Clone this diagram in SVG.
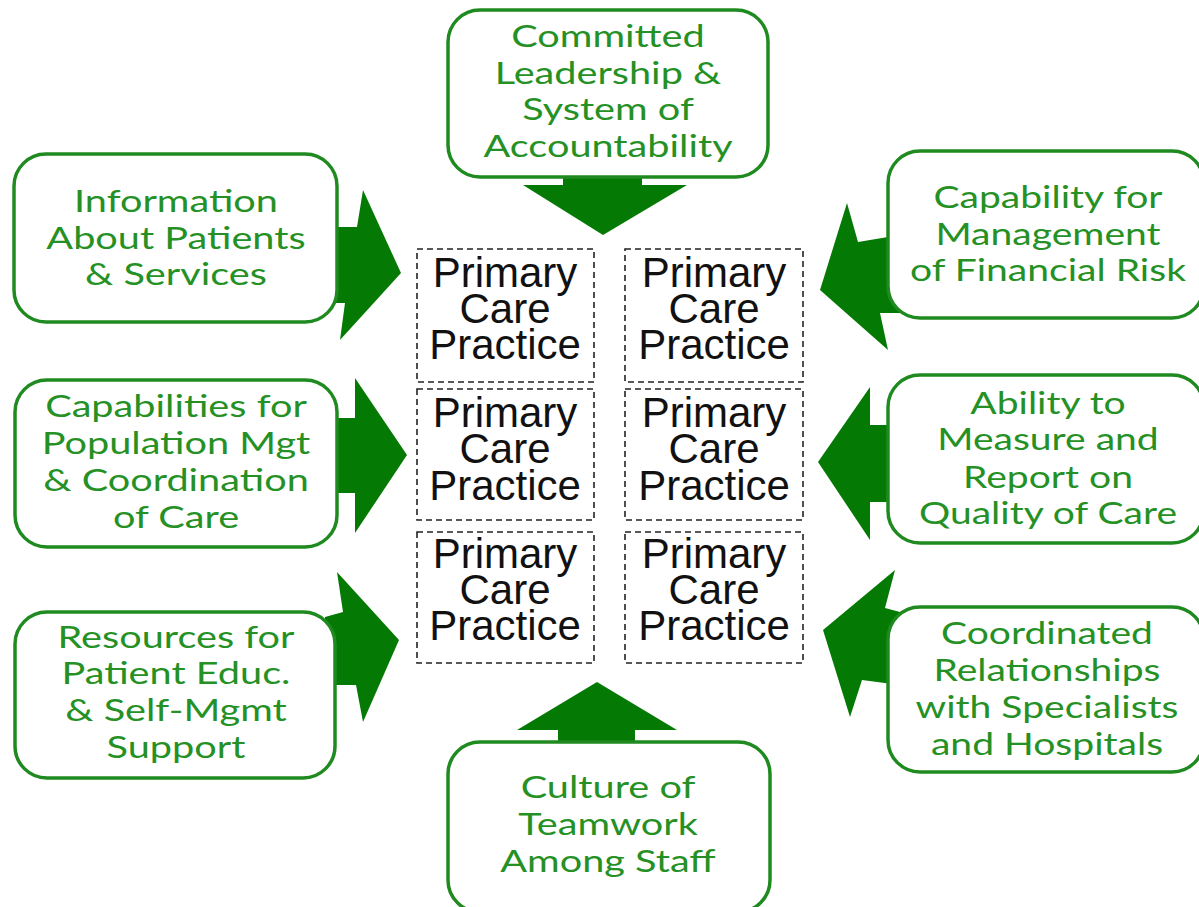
<svg xmlns="http://www.w3.org/2000/svg" width="1199" height="907" viewBox="0 0 1199 907">
<style>
.box{fill:#fff;stroke:#1f8a1f;stroke-width:3.5}
.arr{fill:#047a04;stroke:none}
.gt{font-family:Lato,"Open Sans",sans-serif;font-size:31.5px;fill:#259125;text-anchor:middle}
.pc{fill:none;stroke:#222;stroke-width:1.6;stroke-dasharray:6 4}
.bt{font-family:"Liberation Sans",Arial,sans-serif;font-size:42px;fill:#111;text-anchor:middle}
</style>
<rect width="1199" height="907" fill="#fff"/>
<g id="connectors">
<polygon class="arr" points="563,170 642,170 642,185 687,185 603,235 523,185 563,185"/>
<polygon class="arr" points="325,227 357,227 363,190 401,273 340,340 345,303 325,303"/>
<polygon class="arr" points="325,418 355,418 355,378 407,455 355,533 355,493 325,493"/>
<polygon class="arr" points="325,617 343,612 337,572 399,640 363,722 356,685 325,685"/>
<polygon class="arr" points="900,235 858,242 847,203 820,290 888,350 880,313 900,313"/>
<polygon class="arr" points="900,425 870,425 870,387 818,462 870,540 870,502 900,502"/>
<polygon class="arr" points="900,612 885,608 895,570 823,630 850,717 862,680 900,685"/>
<polygon class="arr" points="558,750 558,730 517,730 597,682 677,730 635,730 635,750"/>
</g>
<g id="n-committed"><rect class="box" x="448" y="10" width="320" height="167" rx="32"/>
<text class="gt" transform="translate(608 0) scale(1.26 1)"><tspan x="0" y="47">Committed</tspan><tspan x="0" y="84">Leadership &amp;</tspan><tspan x="0" y="120">System of</tspan><tspan x="0" y="157">Accountability</tspan></text></g>
<g id="n-info"><rect class="box" x="14" y="154" width="323" height="168" rx="32"/>
<text class="gt" transform="translate(176 0) scale(1.26 1)"><tspan x="0" y="212">Information</tspan><tspan x="0" y="249">About Patients</tspan><tspan x="0" y="285">&amp; Services</tspan></text></g>
<g id="n-capabilities"><rect class="box" x="15" y="380" width="322" height="167" rx="32"/>
<text class="gt" transform="translate(176 0) scale(1.26 1)"><tspan x="0" y="417">Capabilities for</tspan><tspan x="0" y="454">Population Mgt</tspan><tspan x="0" y="491">&amp; Coordination</tspan><tspan x="0" y="528">of Care</tspan></text></g>
<g id="n-resources"><rect class="box" x="15" y="612" width="320" height="166" rx="32"/>
<text class="gt" transform="translate(176 0) scale(1.26 1)"><tspan x="0" y="648">Resources  for</tspan><tspan x="0" y="684">Patient Educ.</tspan><tspan x="0" y="721">&amp; Self-Mgmt</tspan><tspan x="0" y="758">Support</tspan></text></g>
<g id="n-financial"><rect class="box" x="888" y="151" width="316" height="167" rx="32"/>
<text class="gt" transform="translate(1048 0) scale(1.24 1)"><tspan x="0" y="208">Capability for</tspan><tspan x="0" y="245">Management</tspan><tspan x="0" y="281">of Financial Risk</tspan></text></g>
<g id="n-quality"><rect class="box" x="888" y="375" width="316" height="168" rx="32"/>
<text class="gt" transform="translate(1048 0) scale(1.24 1)"><tspan x="0" y="414">Ability to</tspan><tspan x="0" y="450">Measure and</tspan><tspan x="0" y="488">Report on</tspan><tspan x="0" y="524">Quality of Care</tspan></text></g>
<g id="n-coordinated"><rect class="box" x="888" y="607" width="316" height="165" rx="32"/>
<text class="gt" transform="translate(1047 0) scale(1.24 1)"><tspan x="0" y="644">Coordinated</tspan><tspan x="0" y="681">Relationships</tspan><tspan x="0" y="718">with Specialists</tspan><tspan x="0" y="755">and Hospitals</tspan></text></g>
<g id="n-culture"><rect class="box" x="448" y="742" width="322" height="170" rx="32"/>
<text class="gt" transform="translate(608 0) scale(1.26 1)"><tspan x="0" y="798">Culture of</tspan><tspan x="0" y="835">Teamwork</tspan><tspan x="0" y="872">Among Staff</tspan></text></g>
<g id="pcp-1"><rect class="pc" x="417" y="249" width="177" height="133"/>
<text class="bt"><tspan x="505" y="287">Primary</tspan><tspan x="505" y="323">Care</tspan><tspan x="505" y="359">Practice</tspan></text></g>
<g id="pcp-2"><rect class="pc" x="625" y="249" width="178" height="133"/>
<text class="bt"><tspan x="714" y="287">Primary</tspan><tspan x="714" y="323">Care</tspan><tspan x="714" y="359">Practice</tspan></text></g>
<g id="pcp-3"><rect class="pc" x="417" y="389" width="177" height="131"/>
<text class="bt"><tspan x="505" y="427">Primary</tspan><tspan x="505" y="463">Care</tspan><tspan x="505" y="500">Practice</tspan></text></g>
<g id="pcp-4"><rect class="pc" x="625" y="389" width="178" height="131"/>
<text class="bt"><tspan x="714" y="427">Primary</tspan><tspan x="714" y="463">Care</tspan><tspan x="714" y="500">Practice</tspan></text></g>
<g id="pcp-5"><rect class="pc" x="417" y="532" width="177" height="131"/>
<text class="bt"><tspan x="505" y="568">Primary</tspan><tspan x="505" y="604">Care</tspan><tspan x="505" y="640">Practice</tspan></text></g>
<g id="pcp-6"><rect class="pc" x="625" y="532" width="178" height="131"/>
<text class="bt"><tspan x="714" y="568">Primary</tspan><tspan x="714" y="604">Care</tspan><tspan x="714" y="640">Practice</tspan></text></g>
</svg>
